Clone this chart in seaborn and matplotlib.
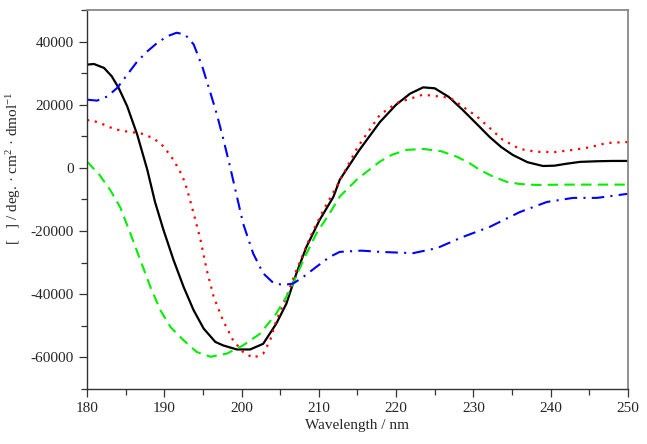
import numpy as np
import pandas as pd
import matplotlib
matplotlib.use('Agg')
import matplotlib.pyplot as plt
import seaborn as sns
from matplotlib.ticker import MultipleLocator

# CD spectra
black_x = [180, 180.9, 182.2, 183.2, 184.1, 185.2, 186.5, 187.8, 188.8, 189.9, 191.2, 192.5, 193.8, 195.1, 196.6, 197.6, 199.4, 201.1, 202.8, 204.5, 205.8, 207.1, 208.4, 210.1, 211.9, 212.7, 215.2, 217.9, 220, 221.8, 223.5, 225, 226.8, 228.6, 230.4, 232.1, 233.6, 235.1, 237, 239, 240.5, 242, 243.8, 246, 248, 250]
black_y = [32700, 32900, 31650, 29000, 25300, 19500, 10500, -600, -10800, -19700, -29200, -37700, -45100, -50900, -55100, -56200, -57500, -57500, -55700, -49300, -43000, -33400, -25000, -16500, -9100, -3800, 5500, 14500, 20000, 23500, 25500, 25200, 22500, 18400, 14000, 9800, 6600, 4100, 1800, 600, 700, 1300, 1900, 2100, 2200, 2200]

red_x = [180, 180.4, 181.7, 183.5, 185.2, 186.9, 188.6, 189.9, 191.2, 192.3, 192.9, 193.8, 194.7, 195.5, 196.4, 197.6, 198.9, 200.2, 201.5, 202.8, 203.7, 204.5, 205.8, 207.1, 208.9, 210.6, 212.3, 215, 217.9, 220.1, 223.5, 227, 230.5, 233.8, 236, 238.2, 240.5, 242.9, 245, 247.3, 250]
red_y = [15000, 15200, 14200, 12300, 11500, 11000, 9400, 6800, 2500, -2300, -6400, -14400, -22900, -32400, -40900, -48300, -54600, -58300, -60200, -58800, -54600, -48300, -40900, -32400, -21800, -13300, -5900, 6500, 16800, 20600, 23200, 22200, 16200, 8900, 6000, 5100, 5000, 5700, 6500, 7900, 8200]

green_x = [180, 180.2, 181.6, 183, 184.3, 185.6, 186.9, 188.2, 189.5, 190.8, 192.5, 194.2, 196, 198.1, 200.2, 202.4, 204.5, 206.3, 208, 209.7, 211.4, 212.7, 215, 217.9, 219.5, 221.4, 223.5, 225.8, 227.9, 229.5, 230.8, 232.5, 234.3, 236, 238.2, 242, 246, 250]
green_y = [1900, 1500, -2200, -7000, -12500, -20700, -29200, -37700, -45100, -50400, -54600, -58300, -59800, -58800, -56200, -52500, -46100, -38700, -29200, -20700, -14400, -9100, -3500, 2000, 4200, 5700, 6000, 5300, 3500, 1500, -600, -2700, -4400, -5100, -5400, -5300, -5300, -5300]

blue_x = [180, 181.3, 182.6, 183.9, 185.2, 186.5, 187.8, 189.1, 190.4, 191.6, 192.7, 193.8, 194.9, 196, 196.8, 197.6, 198.5, 199.4, 200.2, 201.5, 202.8, 204.1, 205.4, 206.7, 208, 209.7, 211.4, 212.7, 215.5, 217.9, 220, 222.2, 225.3, 228.6, 232.1, 236, 239.5, 242.9, 246, 250]
blue_y = [21600, 21300, 22600, 25300, 29500, 33700, 36900, 39600, 41700, 42800, 42200, 39100, 32200, 23500, 17000, 9500, 500, -9100, -17600, -27100, -33400, -36400, -37100, -36600, -34500, -31300, -28200, -26600, -26200, -26600, -26800, -27000, -25400, -21900, -18700, -14000, -10800, -9500, -9500, -8200]

series = [
    (black_x, black_y, 'black', '-', 1.6),
    (red_x, red_y, 'red', (0, (1, 2.6)), 1.6),
    (green_x, green_y, '#00ee00', (0, (5, 3)), 1.5),
    (blue_x, blue_y, 'blue', (0, (6, 3, 1, 3)), 1.5),
]

sns.set_style('white')
plt.rcParams['font.family'] = ['Liberation Serif', 'DejaVu Serif']
plt.rcParams['mathtext.fontset'] = 'custom'
plt.rcParams['mathtext.rm'] = 'Liberation Serif'
plt.rcParams['mathtext.it'] = 'Liberation Serif:italic'
plt.rcParams['axes.unicode_minus'] = False

fig = plt.figure(figsize=(6.47, 4.44), dpi=100)
ax = fig.add_axes([0.1345, 0.124, 0.836, 0.8535])

for xs, ys, col, ls, lw in series:
    df = pd.DataFrame({'x': xs, 'y': ys})
    sns.lineplot(data=df, x='x', y='y', ax=ax, color=col, linestyle=ls,
                 linewidth=lw, sort=False, estimator=None)

ax.set_xlim(180, 250)
ax.set_ylim(-70000, 50000)
ax.xaxis.set_major_locator(MultipleLocator(10))
ax.xaxis.set_minor_locator(MultipleLocator(5))
ax.yaxis.set_minor_locator(MultipleLocator(10000))
ax.set_yticks([-60000, -40000, -20000, 0, 20000, 40000])
ax.tick_params(axis='both', which='major', direction='out', length=6, width=0.9,
               color='#333333', labelsize=11, bottom=True, left=True)
ax.tick_params(axis='both', which='minor', direction='out', length=4, width=0.9,
               color='#333333', bottom=True, left=True)

for side in ['left', 'bottom']:
    ax.spines[side].set_color('#333333')
    ax.spines[side].set_linewidth(1.0)
for side in ['top', 'right']:
    ax.spines[side].set_color('#888888')
    ax.spines[side].set_linewidth(1.3)

ax.set_xlabel('Wavelength / nm', fontsize=11, labelpad=3)
ax.set_ylabel('[   ] / deg. \u00b7 cm$^{2}$ \u00b7 dmol$^{-1}$', fontsize=11)
ax.yaxis.set_label_coords(-0.118, 0.583)

fig.savefig('out.png', dpi=100)
